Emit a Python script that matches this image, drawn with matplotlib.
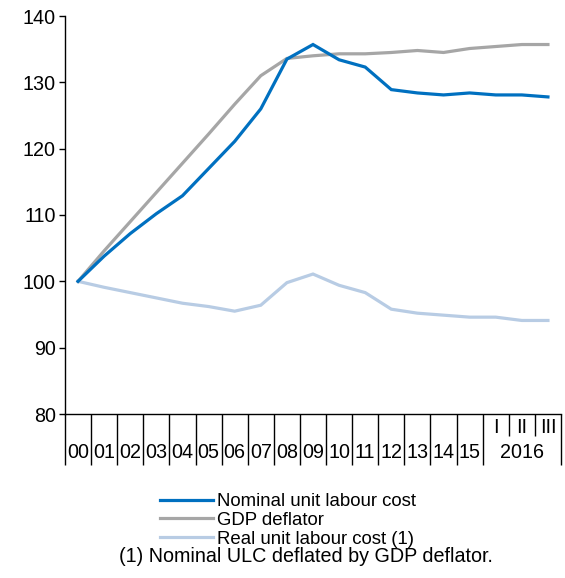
import matplotlib
matplotlib.use("Agg")
import matplotlib.pyplot as plt
from matplotlib.lines import Line2D

plt.rcParams['font.family'] = ['Liberation Sans', 'DejaVu Sans']

years = ["00", "01", "02", "03", "04", "05", "06", "07", "08", "09",
         "10", "11", "12", "13", "14", "15"]
quarters = ["I", "II", "III"]
quarter_year = "2016"

nominal_ulc = [100.0, 103.8, 107.2, 110.2, 112.9, 117.0, 121.1, 126.0, 133.5, 135.7,
               133.4, 132.3, 128.9, 128.4, 128.1, 128.4, 128.1, 128.1, 127.8]
gdp_deflator = [100.0, 104.6, 109.0, 113.4, 117.8, 122.2, 126.7, 131.0, 133.6, 134.0,
                134.3, 134.3, 134.5, 134.8, 134.5, 135.1, 135.4, 135.7, 135.7]
real_ulc = [100.0, 99.1, 98.3, 97.5, 96.7, 96.2, 95.5, 96.4, 99.8, 101.1,
            99.4, 98.3, 95.8, 95.2, 94.9, 94.6, 94.6, 94.1, 94.1]

series_names = ["Nominal unit labour cost", "GDP deflator", "Real unit labour cost (1)"]
colors = ["#0070C0", "#A6A6A6", "#B8CCE4"]
footnote = "(1) Nominal ULC deflated by GDP deflator."

W, H = 565, 578
fig = plt.figure(figsize=(W / 100, H / 100), dpi=100)
left, right, top, bottom = 65, 561, 16, 414
ax = fig.add_axes([left / W, 1 - bottom / H, (right - left) / W, (bottom - top) / H])

n = len(years) + len(quarters)
x = list(range(n))
fs = 14.2
for vals, c in zip([real_ulc, gdp_deflator, nominal_ulc], [colors[2], colors[1], colors[0]]):
    ax.plot(x, vals, color=c, lw=2.3, solid_joinstyle='miter', zorder=3)

ax.set_xlim(-0.5, n - 0.5)
ax.set_ylim(80, 140)
ax.set_yticks(range(80, 141, 10))
ax.tick_params(axis='y', direction='out', length=4.5, width=1, labelsize=fs, pad=2)

# x axis separators
year_bounds = [i - 0.5 for i in range(len(years) + 1)] + [n - 0.5]
quarter_bounds = [len(years) + i + 0.5 for i in range(len(quarters) - 1)]
ax.set_xticks(year_bounds)
ax.set_xticklabels([])
ax.tick_params(axis='x', which='major', direction='out', length=36.5, width=1)
ax.set_xticks(quarter_bounds, minor=True)
ax.tick_params(axis='x', which='minor', direction='out', length=15.5, width=1)

for s in ['top', 'right']:
    ax.spines[s].set_visible(False)
for s in ['left', 'bottom']:
    ax.spines[s].set_linewidth(1)

for i, lab in enumerate(years):
    ax.annotate(lab, xy=(i, 0), xycoords=('data', 'axes fraction'), xytext=(0, -27.4),
                textcoords='offset points', ha='center', va='center', fontsize=fs)
for j, lab in enumerate(quarters):
    ax.annotate(lab, xy=(len(years) + j, 0), xycoords=('data', 'axes fraction'), xytext=(0, -10),
                textcoords='offset points', ha='center', va='center', fontsize=fs)
ax.annotate(quarter_year, xy=(len(years) + (len(quarters) - 1) / 2, 0), xycoords=('data', 'axes fraction'),
            xytext=(0, -27.4), textcoords='offset points', ha='center', va='center', fontsize=fs)

handles = [Line2D([], [], color=c, lw=2.3) for c in colors]
fig.legend(handles, series_names, loc='upper left', bbox_to_anchor=(160 / W, 1 - 493 / H),
           frameon=False, prop={'size': 13.4}, handlelength=2.85, handletextpad=0.22,
           borderpad=0, borderaxespad=0, labelspacing=0.1)
fig.text(306 / W, 1 - 557 / H, footnote, ha='center', va='center', fontsize=fs)

fig.savefig("out.png", dpi=100)
